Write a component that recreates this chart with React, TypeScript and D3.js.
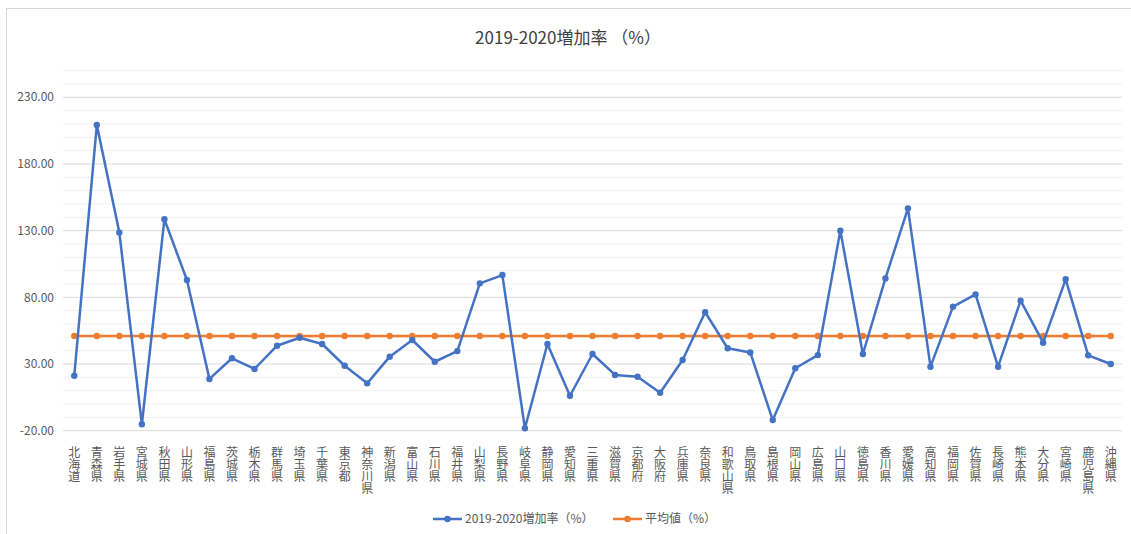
import * as d3 from "d3";
import React from "react";

const prefectures = [
  "北海道", "青森県", "岩手県", "宮城県", "秋田県", "山形県", "福島県", "茨城県", "栃木県", "群馬県",
  "埼玉県", "千葉県", "東京都", "神奈川県", "新潟県", "富山県", "石川県", "福井県", "山梨県", "長野県",
  "岐阜県", "静岡県", "愛知県", "三重県", "滋賀県", "京都府", "大阪府", "兵庫県", "奈良県", "和歌山県",
  "鳥取県", "島根県", "岡山県", "広島県", "山口県", "徳島県", "香川県", "愛媛県", "高知県", "福岡県",
  "佐賀県", "長崎県", "熊本県", "大分県", "宮崎県", "鹿児島県", "沖縄県",
];

const growthRate = [
  21.2, 209.2, 128.7, -15.2, 138.5, 93, 18.8, 34.3, 26.3, 43.7,
  49.7, 45, 28.7, 15.5, 35.5, 48, 31.7, 39.7, 90.5, 96.7,
  -18.2, 45, 6.2, 37.5, 21.8, 20.5, 8.5, 33, 68.8, 41.8,
  38.7, -12, 26.8, 36.7, 130, 37.5, 94.2, 146.7, 28, 73,
  82.2, 28, 77.5, 46, 93.5, 36.5, 30,
];

const averageValue = 51;

const yTicks = [-20, 30, 80, 130, 180, 230];

const seriesNames = ["2019-2020増加率（%）", "平均値（%）"];
const colors = ["#4472C4", "#ED7D31"];

const W = 1131, H = 534;
const margin = { top: 70.6, right: 9, bottom: 103.3, left: 63 };
const FONT = "'Noto Sans CJK JP', 'Noto Sans', sans-serif";

export default function App() {
  const x = d3.scaleBand<string>().domain(prefectures).range([margin.left, W - margin.right]);
  const y = d3.scaleLinear().domain([-20, 250]).range([H - margin.bottom, margin.top]);
  const cx = (p: string) => (x(p) ?? 0) + x.bandwidth() / 2;

  const line = d3.line<number>().x((_, i) => cx(prefectures[i])).y(d => y(d));
  const avg = prefectures.map(() => averageValue);

  // major gridlines every 50, minor every 10
  const grid = d3.range(-20, 251, 10);

  return (
    <svg width={W} height={H} style={{ position: "absolute", left: 0, top: 0, fontFamily: FONT }}>
      <rect x={0} y={0} width={W} height={H} fill="#fff" />
      <rect x={6.5} y={8.5} width={W} height={H} fill="none" stroke="#d9d9d9" />
      <text x={568} y={44} textAnchor="middle" fontSize={17} fill="#404040">2019-2020増加率 （%）</text>

      {grid.map(g => (
        <line key={g} x1={margin.left} x2={W - margin.right} y1={y(g)} y2={y(g)}
          stroke={(g + 20) % 50 === 0 ? "#d9d9d9" : "#f0f0f0"} strokeWidth={1} />
      ))}
      {yTicks.map(t => (
        <text key={t} x={54} y={y(t)} dy="0.35em" textAnchor="end" fontSize={12} fill="#595959">
          {t.toFixed(2)}
        </text>
      ))}

      {prefectures.map(p => (
        <text key={p} x={cx(p)} y={446} fontSize={12} fill="#595959"
          style={{ writingMode: "vertical-rl" }}>{p}</text>
      ))}

      <path d={line(avg) ?? ""} fill="none" stroke={colors[1]} strokeWidth={2.5} />
      {avg.map((v, i) => (
        <circle key={i} cx={cx(prefectures[i])} cy={y(v)} r={3.2} fill={colors[1]} />
      ))}

      <path d={line(growthRate) ?? ""} fill="none" stroke={colors[0]} strokeWidth={2.5} strokeLinejoin="round" />
      {growthRate.map((v, i) => (
        <circle key={i} cx={cx(prefectures[i])} cy={y(v)} r={3.2} fill={colors[0]} />
      ))}

      <g transform="translate(433,519)">
        <line x1={0} x2={29} y1={0} y2={0} stroke={colors[0]} strokeWidth={2.5} />
        <circle cx={14.5} cy={0} r={3.2} fill={colors[0]} />
        <text x={32} y={0} dy="0.35em" fontSize={12} fill="#595959">{seriesNames[0]}</text>
        <line x1={180} x2={209} y1={0} y2={0} stroke={colors[1]} strokeWidth={2.5} />
        <circle cx={194.5} cy={0} r={3.2} fill={colors[1]} />
        <text x={212} y={0} dy="0.35em" fontSize={12} fill="#595959">{seriesNames[1]}</text>
      </g>
    </svg>
  );
}
